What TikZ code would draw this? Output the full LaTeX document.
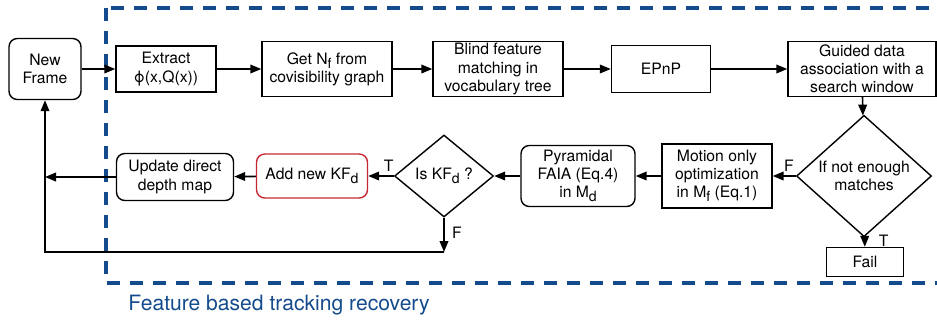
\documentclass[tikz,border=0pt]{standalone}
\usepackage{fontspec}
\setmainfont{TeX Gyre Heros}
\usetikzlibrary{arrows.meta, positioning, shapes.geometric}
\definecolor{blue1}{RGB}{20,75,140}
\definecolor{red1}{RGB}{200,40,50}
\newcommand{\lowsub}[1]{\raisebox{-0.5ex}{\fontsize{12}{12}\selectfont #1}}

\begin{document}
\begin{tikzpicture}[x=0.03cm,y=-0.03cm,->,>={Triangle[length=0.33cm,width=0.26cm]},
                    line width=1.4pt,font=\fontsize{13.4}{15.5}\selectfont]
  \tikzstyle{box}=[draw,rectangle,align=center,inner sep=1pt,line width=1.2pt]
  \tikzstyle{rbox}=[box,rounded corners=0.25cm]
  \tikzstyle{test}=[draw,diamond,align=center,inner sep=0pt,line width=1.2pt]
  \useasboundingbox (0,0) rectangle (937,322);

  % frame of the recovery block
  \draw[-,blue1,line width=2.8pt,dash pattern=on 0.4cm off 0.29cm]
    (106,8) rectangle (990,283);
  \node[blue1,font=\fontsize{18}{20}\selectfont] (cap) at (279,305) {Feature based tracking recovery};

  \node[rbox,minimum width=2.16cm,minimum height=1.83cm] (nf)  at (45,69)    {New\\Frame};
  \node[box,minimum width=3cm,minimum height=1.38cm]     (ex)  at (166,69)   {Extract\\ϕ(x,Q(x))};
  \node[box,minimum width=3.9cm,minimum height=1.65cm]   (gn)  at (327,69)   {Get N\lowsub{f} from\\covisibility graph};
  \node[box,minimum width=3.9cm,minimum height=1.65cm]   (bf)  at (498,69)   {Blind feature\\matching in\\vocabulary tree};
  \node[box,minimum width=2.97cm,minimum height=1.41cm]  (ep)  at (661,69)   {EPnP};
  \node[box,minimum width=4.44cm,minimum height=1.65cm]  (gd)  at (862,69)   {Guided data\\association with a\\search window};
  \node[test,minimum width=4.05cm,minimum height=2.97cm] (ne)  at (864,176)  {If not enough\\matches};
  \node[box,minimum width=2.31cm,minimum height=0.87cm]  (fl)  at (865,262)  {Fail};
  \node[box,minimum width=3.3cm,minimum height=1.92cm]   (mo)  at (717,176)  {Motion only\\optimization\\in M\lowsub{f} (Eq.1)};
  \node[rbox,minimum width=3.42cm,minimum height=1.83cm] (py)  at (578,176)  {Pyramidal\\FAIA (Eq.4)\\in M\lowsub{d}};
  \node[test,minimum width=2.97cm,minimum height=2.46cm] (kf)  at (444,176)  {Is KF\lowsub{d} ?};
  \node[rbox,draw=red1,minimum width=3.33cm,minimum height=1.32cm] (ad) at (312,176) {Add new KF\lowsub{d}};
  \node[rbox,minimum width=3.51cm,minimum height=1.41cm] (ud)  at (175,177)  {Update direct\\depth map};

  \coordinate (ul) at (45,177);
  \coordinate (fb) at (444,252);
  \coordinate (bl) at (45,252);

  \draw (nf) -- (ex);
  \draw (ex) -- (gn);
  \draw (gn) -- (bf);
  \draw (bf) -- (ep);
  \draw (ep) -- (gd);
  \draw (gd) -- (ne);
  \draw (ne) -- node[above,pos=0.3] {F} (mo);
  \draw (ne) -- node[right=8pt,pos=0.4] {T} (fl);
  \draw (mo) -- (py);
  \draw (py) -- (kf);
  \draw (kf) -- node[above,pos=0.2] {T} (ad);
  \draw (ad) -- (ud);
  \draw (ud) -- (ul);
  \draw (kf) -- node[right=3pt,pos=0.45] {F} (fb);
  \draw (fb) -- (bl) -- (nf);
\end{tikzpicture}
\end{document}
